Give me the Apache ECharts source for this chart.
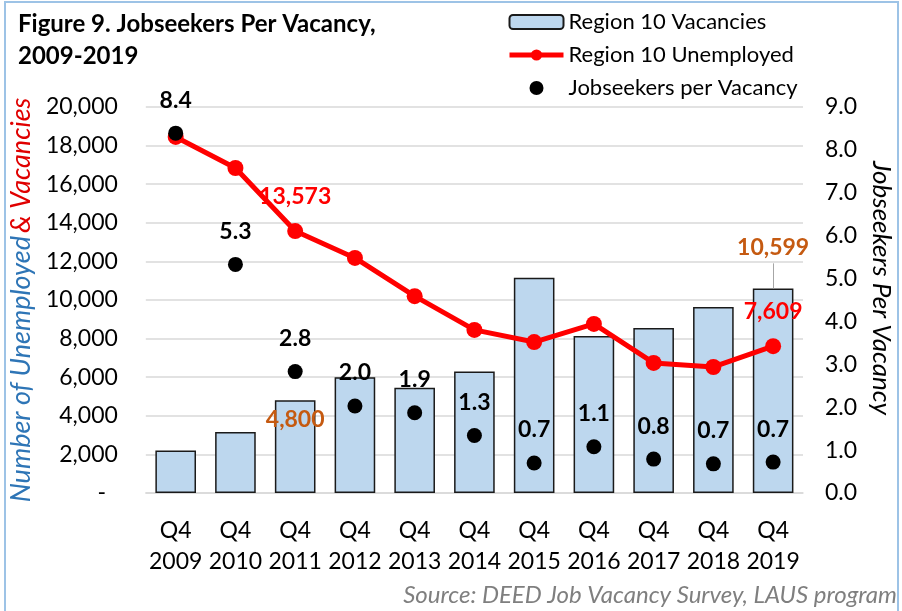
<!DOCTYPE html>
<html lang="en">
<head>
    <meta charset="UTF-8">
    <script src="https://cdn.jsdelivr.net/npm/echarts@6/dist/echarts.min.js"></script>
    <title>Jobseekers Per Vacancy</title>
</head>
<body style="margin:0">
<div id="main" style="width: 902px;height: 611px"></div>
<script type="text/javascript">
    // data
    var categories = ['Q4\n2009', 'Q4\n2010', 'Q4\n2011', 'Q4\n2012', 'Q4\n2013', 'Q4\n2014',
        'Q4\n2015', 'Q4\n2016', 'Q4\n2017', 'Q4\n2018', 'Q4\n2019'];
    var vacancies = [2200, 3160, 4800, 6000, 5450, 6300, 11150, 8130, 8550, 9640, 10599];
    var unemployed = [18450, 16840, 13573, 12180, 10200, 8450, 7820, 8760, 6740, 6530, 7609];
    var jobseekers = [8.39, 5.33, 2.83, 2.03, 1.87, 1.34, 0.70, 1.08, 0.79, 0.68, 0.72];
    var labelledIdx = [2, 10];   // points that carry value labels

    var font = 'Lato';

    var myChart = echarts.init(document.getElementById("main"));

    function fmt(v) {
        return v.toString().replace(/\B(?=(\d{3})+(?!\d))/g, ',');
    }

    var barData = vacancies.map(function (v, i) {
        var d = {value: v};
        if (i === 2) {
            d.label = {show: true, position: 'insideTop', distance: 8};
        } else if (i === 10) {
            d.label = {show: true, position: 'top', distance: 29};
        }
        return d;
    });

    var lineData = unemployed.map(function (v, i) {
        var d = {value: v};
        if (labelledIdx.indexOf(i) >= 0) {
            d.label = {show: true};
        }
        return d;
    });

    myChart.setOption({
        animation: false,
        textStyle: {fontFamily: font},
        title: {
            text: 'Figure 9. Jobseekers Per Vacancy,\n2009-2019',
            left: 13,
            top: 3,
            textStyle: {fontSize: 24, fontWeight: 'bold', color: '#000', lineHeight: 32, fontFamily: font}
        },
        legend: {
            orient: 'vertical',
            left: 502,
            top: 6,
            itemWidth: 54,
            itemHeight: 14,
            itemGap: 11,
            lineStyle: {width: 5},
            textStyle: {fontSize: 22, color: '#000', fontFamily: font},
            data: [
                {name: 'Region 10 Vacancies'},
                {name: 'Region 10 Unemployed'},
                {name: 'Jobseekers per Vacancy'}
            ]
        },
        graphic: [
            {
                type: 'rect',
                shape: {x: 5, y: 2, width: 893, height: 640},
                style: {fill: 'none', stroke: '#9dc3e6', lineWidth: 2},
                silent: true
            },
            {
                type: 'text',
                right: 5,
                top: 583,
                style: {
                    text: 'Source: DEED Job Vacancy Survey, LAUS program',
                    fill: '#7f7f7f',
                    font: 'italic 24px ' + font
                }
            }
        ],
        grid: {left: 145, right: 94, top: 107, bottom: 118},
        xAxis: {
            type: 'category',
            data: categories,
            axisTick: {show: false},
            axisLine: {lineStyle: {color: '#d9d9d9', width: 1.5}},
            axisLabel: {fontSize: 23, color: '#000', lineHeight: 31, margin: 22, interval: 0}
        },
        yAxis: [
            {
                type: 'value',
                min: 0,
                max: 20000,
                interval: 2000,
                name: '{b|Number of Unemployed} {r|& Vacancies}',
                nameLocation: 'middle',
                nameGap: 99,
                nameTextStyle: {
                    rich: {
                        b: {color: '#2e75b6', fontSize: 27, fontStyle: 'italic', fontFamily: font},
                        r: {color: '#e00000', fontSize: 27, fontStyle: 'italic', fontFamily: font}
                    }
                },
                axisLine: {show: false},
                axisTick: {show: false},
                axisLabel: {
                    fontSize: 23, color: '#000', margin: 28,
                    formatter: function (v) { return v === 0 ? '-  ' : fmt(v); }
                },
                splitLine: {lineStyle: {color: '#d9d9d9', width: 1.5}}
            },
            {
                type: 'value',
                min: 0,
                max: 9,
                interval: 1,
                name: 'Jobseekers Per Vacancy',
                nameLocation: 'middle',
                nameGap: 59,
                nameRotate: -90,
                nameTextStyle: {
                    color: '#000', fontSize: 26, fontStyle: 'italic', fontFamily: font,
                    padding: [0, 24, 0, 0]
                },
                axisLine: {show: false},
                axisTick: {show: false},
                axisLabel: {
                    fontSize: 23, color: '#000', margin: 22,
                    formatter: function (v) { return v.toFixed(1); }
                },
                splitLine: {show: false}
            }
        ],
        series: [
            {
                name: 'Region 10 Vacancies',
                type: 'bar',
                data: barData,
                barCategoryGap: '32%',
                itemStyle: {color: '#bdd7ee', borderColor: '#1a1a1a', borderWidth: 1.5},
                label: {
                    show: false,
                    color: '#c55a11',
                    fontWeight: 'bold',
                    fontSize: 23,
                    fontFamily: font,
                    formatter: function (p) { return fmt(p.value); }
                },
                // leader line from the 2019 bar up to its label
                markLine: {
                    silent: true,
                    symbol: 'none',
                    label: {show: false},
                    lineStyle: {color: '#a6a6a6', width: 1, type: 'solid'},
                    data: [[{coord: [10, vacancies[10]]}, {coord: [10, vacancies[10] + 1300]}]]
                }
            },
            {
                name: 'Region 10 Unemployed',
                type: 'line',
                data: lineData,
                symbol: 'circle',
                symbolSize: 16,
                itemStyle: {color: '#ff0000'},
                lineStyle: {color: '#ff0000', width: 5},
                label: {
                    show: false,
                    position: 'top',
                    distance: 15,
                    color: '#ff0000',
                    fontWeight: 'bold',
                    fontSize: 23,
                    fontFamily: font,
                    formatter: function (p) { return fmt(p.value); }
                },
                z: 3
            },
            {
                name: 'Jobseekers per Vacancy',
                type: 'scatter',
                yAxisIndex: 1,
                data: jobseekers,
                symbol: 'circle',
                symbolSize: 15,
                itemStyle: {color: '#000', opacity: 1},
                label: {
                    show: true,
                    position: 'top',
                    distance: 14,
                    color: '#000',
                    fontWeight: 'bold',
                    fontSize: 23,
                    fontFamily: font,
                    formatter: function (p) { return p.value.toFixed(1); }
                },
                z: 4
            }
        ]
    });
</script>
</body>
</html>
